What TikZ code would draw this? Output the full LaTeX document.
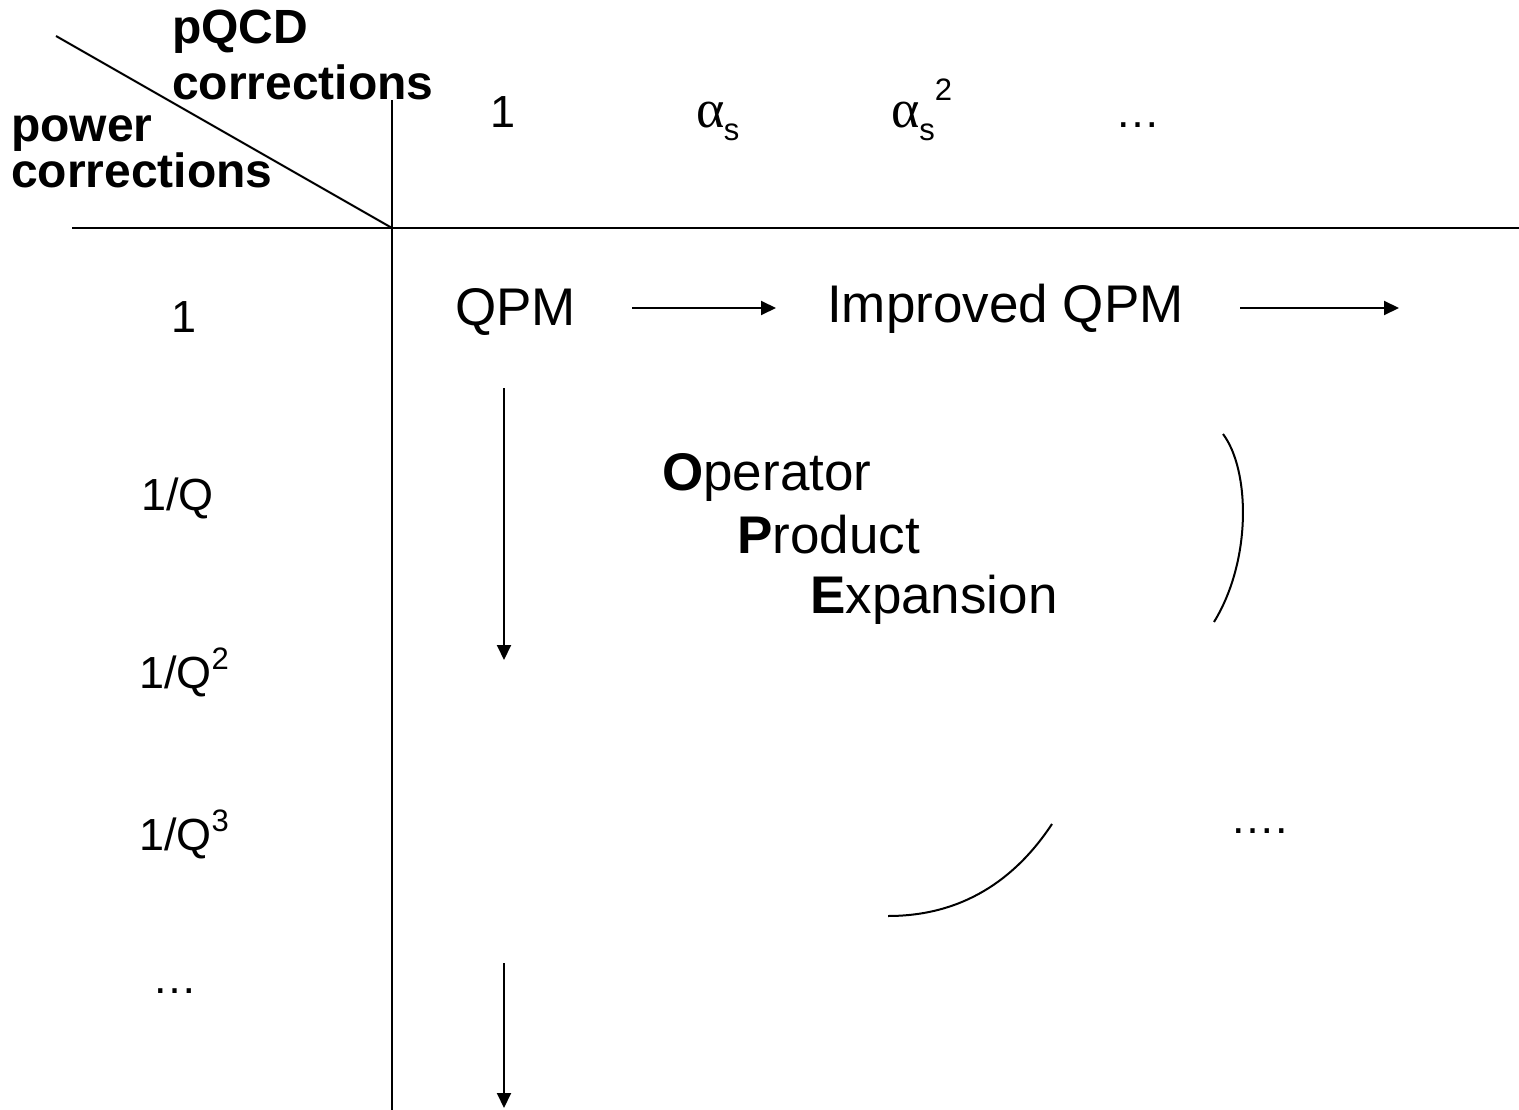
\documentclass[tikz,border=0pt]{standalone}
\usepackage{fontspec}
\setmainfont{Liberation Sans}
\newfontfamily\greekfont{Liberation Serif}
\usetikzlibrary{arrows.meta}
\newcommand{\fsz}[1]{\fontsize{#1}{#1}\selectfont}
\newcommand{\galpha}{{\greekfont\fsz{54}α}}
\tikzset{
  lbl/.style={inner sep=0pt, anchor=base west},
  lblc/.style={inner sep=0pt, anchor=base},
  rule/.style={line width=2pt},
  arr/.style={line width=2pt, -{Triangle[length=15pt,width=14pt]}},
  bigtxt/.style={font=\fsz{53}},
  midtxt/.style={font=\fsz{45}},
  hdr/.style={font=\fsz{48}\bfseries}
}
\begin{document}
\begin{tikzpicture}[x=1pt,y=-1pt]
\useasboundingbox (0,0) rectangle (1519,1110);
% grid lines
\coordinate (dgA) at (56,36);
\coordinate (org) at (392,228);
\coordinate (hL) at (72,228);
\coordinate (hR) at (1519,228);
\coordinate (vT) at (392,100);
\coordinate (vB) at (392,1110);
\draw[rule] (dgA) -- (org);
\draw[rule] (hL) -- (hR);
\draw[rule] (vT) -- (vB);
% headers
\node[lbl,hdr] (pqcd) at (172,44) {pQCD};
\node[lbl,hdr] (pqcdc) at (172,100) {corrections};
\node[lbl,hdr] (pow) at (11,142) {power};
\node[lbl,hdr] (powc) at (11,188) {corrections};
% top row
\node[lblc,midtxt] (t1) at (503,128) {1};
\node[lblc,midtxt] (ta) at (718,128) {\galpha\kern-1pt\raisebox{-0.28em}{\fsz{31}s}};
\node[lblc,midtxt] (tb) at (922,128) {\galpha\kern-1pt\raisebox{-0.28em}{\fsz{31}s}\raisebox{0.6em}{\fsz{31}2}};
\node[lblc,midtxt] (tc) at (1138,128) {…};
% left column
\node[lblc,midtxt] (l1) at (184,333) {1};
\node[lbl,midtxt] (l2) at (141,510) {1/Q};
\node[lbl,midtxt] (l3) at (139,688) {1/Q\raisebox{0.42em}{\fsz{31}2}};
\node[lbl,midtxt] (l4) at (139,850) {1/Q\raisebox{0.42em}{\fsz{31}3}};
\node[lblc,midtxt] (l5) at (175,993) {…};
% body
\node[lbl,bigtxt] (qpm) at (455,325) {QPM};
\node[lbl,bigtxt] (iqpm) at (827,323) {Improved QPM};
\node[lbl,bigtxt] (ope1) at (662,490) {\textbf{O}perator};
\node[lbl,bigtxt] (ope2) at (737,553) {\textbf{P}roduct};
\node[lbl,bigtxt] (ope3) at (810,613) {\textbf{E}xpansion};
\node[lblc,midtxt] (dots) at (1259,833) {….};
% arrows
\coordinate (a1s) at (632,308);
\coordinate (a1e) at (776,308);
\coordinate (a2s) at (1240,308);
\coordinate (a2e) at (1399,308);
\coordinate (d1s) at (504,388);
\coordinate (d1e) at (504,660);
\coordinate (d2s) at (504,963);
\coordinate (d2e) at (504,1108);
\draw[arr] (a1s) -- (a1e);
\draw[arr] (a2s) -- (a2e);
\draw[arr] (d1s) -- (d1e);
\draw[arr] (d2s) -- (d2e);
% arcs
\coordinate (c1s) at (1223,434);
\coordinate (c1e) at (1214,622);
\coordinate (c2s) at (888,916);
\coordinate (c2e) at (1052,824);
\draw[rule] (c1s) .. controls (1250,470) and (1252,560) .. (c1e);
\draw[rule] (c2s) .. controls (962,916) and (1015,880) .. (c2e);
\end{tikzpicture}
\end{document}
